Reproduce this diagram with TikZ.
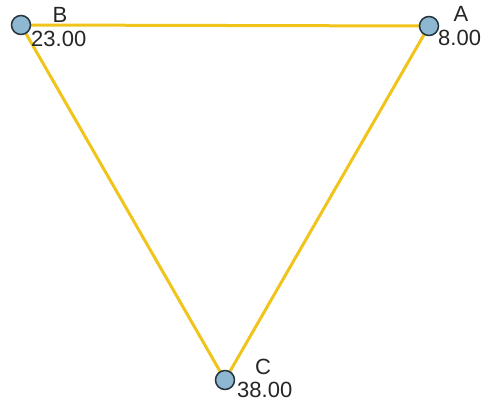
\documentclass[tikz,border=0pt]{standalone}
\usepackage{fontspec}
\setmainfont{Liberation Sans}
\definecolor{edgeyellow}{HTML}{F0C41B}
\definecolor{vfill}{HTML}{8EB8D2}
\definecolor{vdraw}{HTML}{26343E}
\begin{document}
\begin{tikzpicture}[x=1pt,y=1pt,
  vertex/.style={circle,draw=vdraw,fill=vfill,line width=1.5pt,minimum size=19pt,inner sep=0pt},
  edgeline/.style={draw=edgeyellow,line width=3pt},
  lbl/.style={font=\fontsize{22}{22}\selectfont,inner sep=0pt,text=black!85}]
\useasboundingbox (0,0) rectangle (485,404);
\coordinate (pB) at (21,379);
\coordinate (pA) at (429,378);
\coordinate (pC) at (225,24);
\draw[edgeline] (pB) -- (pA);
\draw[edgeline] (pB) -- (pC);
\draw[edgeline] (pA) -- (pC);
\node[vertex] (B) at (pB) {};
\node[vertex] (A) at (pA) {};
\node[vertex] (C) at (pC) {};
\node[lbl,anchor=base] (lB) at (60,381) {B};
\node[lbl,anchor=base west] (wB) at (31,357) {23.00};
\node[lbl,anchor=base] (lA) at (461,382) {A};
\node[lbl,anchor=base west] (wA) at (438,358) {8.00};
\node[lbl,anchor=base] (lC) at (263,29) {C};
\node[lbl,anchor=base west] (wC) at (237,6) {38.00};
\end{tikzpicture}
\end{document}
